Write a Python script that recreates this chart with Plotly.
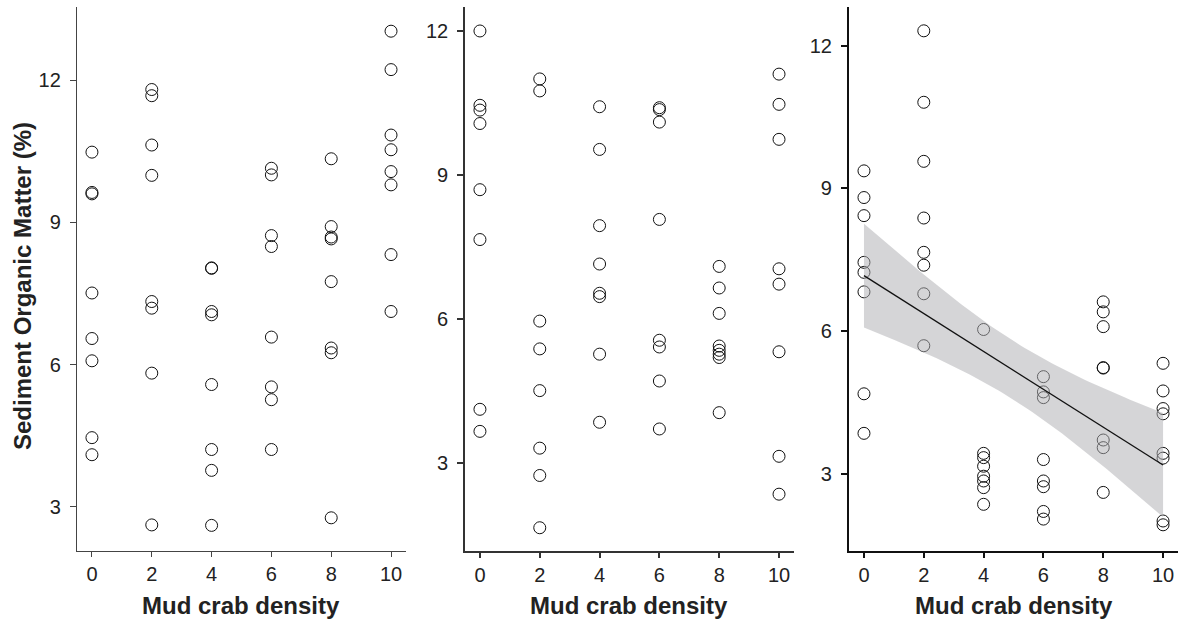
import numpy as np
import plotly.graph_objects as go

densities = [0, 2, 4, 6, 8, 10]
y_ticks = [3, 6, 9, 12]

# Panel 1 (left) sediment organic matter (%) by mud crab density
left_d0 = [10.48, 9.63, 9.60, 7.51, 6.55, 6.08, 4.46, 4.10]
left_d2 = [11.80, 11.67, 10.63, 9.99, 7.33, 7.19, 5.82, 2.62]
left_d4 = [8.04, 8.03, 7.12, 7.05, 5.58, 4.21, 3.77, 2.61]
left_d6 = [10.14, 10.00, 8.72, 8.49, 6.58, 5.53, 5.26, 4.21]
left_d8 = [10.34, 8.91, 8.69, 8.65, 7.75, 6.35, 6.25, 2.77]
left_d10 = [13.03, 12.22, 10.84, 10.53, 10.07, 9.79, 8.32, 7.12]

# Panel 2 (middle)
mid_d0 = [12.00, 10.45, 10.35, 10.07, 8.69, 7.65, 4.11, 3.65]
mid_d2 = [11.00, 10.75, 5.95, 5.37, 4.50, 3.30, 2.73, 1.64]
mid_d4 = [10.42, 9.53, 7.94, 7.14, 6.53, 6.46, 5.26, 3.84]
mid_d6 = [10.40, 10.36, 10.10, 8.07, 5.55, 5.41, 4.70, 3.70]
mid_d8 = [7.09, 6.64, 6.11, 5.43, 5.34, 5.26, 5.19, 4.04]
mid_d10 = [11.10, 10.47, 9.74, 7.04, 6.72, 5.31, 3.13, 2.34]

# Panel 3 (right)
right_d0 = [9.37, 8.81, 8.43, 7.45, 7.24, 6.83, 4.69, 3.86]
right_d2 = [12.31, 10.81, 9.57, 8.38, 7.66, 7.39, 6.79, 5.70]
right_d4 = [6.04, 3.44, 3.35, 3.17, 2.96, 2.86, 2.72, 2.37]
right_d6 = [5.05, 4.73, 4.61, 3.31, 2.86, 2.74, 2.22, 2.06]
right_d8 = [6.62, 6.41, 6.10, 5.24, 5.23, 3.72, 3.56, 2.62]
right_d10 = [5.33, 4.75, 4.38, 4.27, 3.44, 3.34, 2.02, 1.94]

panels = [
    [left_d0, left_d2, left_d4, left_d6, left_d8, left_d10],
    [mid_d0, mid_d2, mid_d4, mid_d6, mid_d8, mid_d10],
    [right_d0, right_d2, right_d4, right_d6, right_d8, right_d10],
]

def flatten(groups):
    xs, ys = [], []
    for d, vals in zip(densities, groups):
        xs += [d] * len(vals)
        ys += list(vals)
    return np.array(xs, float), np.array(ys, float)

fig = go.Figure()
for i, groups in enumerate(panels):
    xs, ys = flatten(groups)
    sfx = "" if i == 0 else str(i + 1)
    fig.add_trace(go.Scatter(
        x=xs, y=ys, mode="markers", xaxis="x" + sfx, yaxis="y" + sfx,
        marker=dict(symbol="circle-open", size=12, color="#111111",
                    line=dict(width=1, color="#111111")),
        showlegend=False, hoverinfo="x+y"))

# Linear fit with 95% confidence band for the right panel
xs, ys = flatten(panels[2])
n = len(xs)
slope, intercept = np.polyfit(xs, ys, 1)
resid = ys - (intercept + slope * xs)
s = np.sqrt(np.sum(resid ** 2) / (n - 2))
xbar = xs.mean()
sxx = np.sum((xs - xbar) ** 2)
tcrit = 2.0129
xg = np.linspace(0, 10, 81)
fit = intercept + slope * xg
half = tcrit * s * np.sqrt(1.0 / n + (xg - xbar) ** 2 / sxx)
fig.add_trace(go.Scatter(
    x=np.concatenate([xg, xg[::-1]]),
    y=np.concatenate([fit + half, (fit - half)[::-1]]),
    fill="toself", fillcolor="rgba(175,175,178,0.52)", mode="lines",
    line=dict(width=0, color="rgba(0,0,0,0)"), xaxis="x3", yaxis="y3",
    showlegend=False, hoverinfo="skip"))
fig.add_trace(go.Scatter(
    x=xg, y=fit, mode="lines", line=dict(color="#111111", width=1.3),
    xaxis="x3", yaxis="y3", showlegend=False, hoverinfo="skip"))

tick_font = dict(family="Liberation Sans, Arial, sans-serif", size=20, color="#222222")
domains = [[0.0, 0.2988], [0.3524, 0.6512], [0.7012, 1.0]]
yranges = [[2.07, 13.54], [1.155, 12.5], [1.39, 12.81]]
line_styles = [(1.3, "#444444"), (1.5, "#333333"), (2.2, "#111111")]

layout = dict(
    width=1182, height=621, autosize=False,
    margin=dict(l=77, r=4, t=7, b=70),
    paper_bgcolor="white", plot_bgcolor="white",
    showlegend=False,
)
for i in range(3):
    sfx = "" if i == 0 else str(i + 1)
    lw, lc = line_styles[i]
    layout["xaxis" + sfx] = dict(
        domain=domains[i], range=[-0.5, 10.5], anchor="y" + sfx,
        tickmode="array", tickvals=densities, ticktext=[str(d) for d in densities],
        showgrid=False, zeroline=False, showline=True, linecolor=lc, linewidth=lw,
        ticks="outside", ticklen=5, tickwidth=lw, tickcolor=lc,
        tickfont=tick_font, fixedrange=True)
    layout["yaxis" + sfx] = dict(
        domain=[0, 1], range=yranges[i], anchor="x" + sfx,
        tickmode="array", tickvals=y_ticks, ticktext=[str(t) for t in y_ticks],
        showgrid=False, zeroline=False, showline=True, linecolor=lc, linewidth=lw,
        ticks="outside", ticklen=6, tickwidth=lw, tickcolor=lc,
        ticklabelstandoff=5,
        tickfont=tick_font, fixedrange=True)

fig.update_layout(**layout)

title_font = dict(family="Liberation Sans, Arial, sans-serif", size=24, color="#222222")
annotations = []
for i in range(3):
    annotations.append(dict(
        text="<b>Mud crab density</b>", xref="paper", yref="paper",
        x=(domains[i][0] + domains[i][1]) / 2, y=0, xanchor="center", yanchor="middle",
        yshift=-54, showarrow=False, font=title_font))
annotations.append(dict(
    text="<b>Sediment Organic Matter (%)</b>", xref="paper", yref="paper",
    x=0, y=0.5, xanchor="center", yanchor="middle", xshift=-55, yshift=-7,
    textangle=-90, showarrow=False, font=title_font))
fig.update_layout(annotations=annotations)

fig.write_html("out.html", config={"displayModeBar": False},
               post_script="document.body.style.margin='0';document.body.style.overflow='hidden';")
